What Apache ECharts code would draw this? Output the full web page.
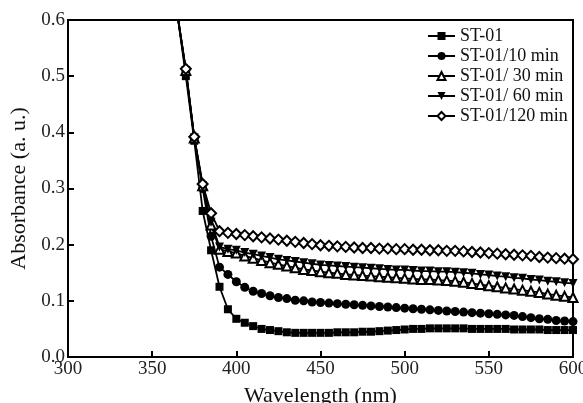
<!DOCTYPE html>
<html>
<head>
<meta charset="utf-8">
<script src="https://cdn.jsdelivr.net/npm/echarts@6/dist/echarts.min.js"></script>
<style>
  html, body { margin: 0; padding: 0; background: #fff; }
  #chart { width: 583px; height: 403px; }
</style>
</head>
<body>
<div id="chart"></div>
<script>
const wavelengths = []
for (let w = 360; w <= 600; w += 5) {
  wavelengths.push(w)
}

// absorbance values, one per wavelength (360..600 step 5)
const st01 = [
  0.70, 0.61, 0.50, 0.385, 0.26, 0.19, 0.125, 0.085, 0.068, 0.061,
  0.055, 0.050, 0.048, 0.046, 0.044, 0.043, 0.043, 0.043, 0.043, 0.043,
  0.044, 0.044, 0.044, 0.045, 0.045, 0.046, 0.047, 0.048, 0.049,
  0.050, 0.050, 0.051, 0.051, 0.051, 0.051, 0.051, 0.050, 0.050, 0.050,
  0.050, 0.050, 0.049, 0.049, 0.049, 0.049, 0.048, 0.048, 0.048, 0.048,
]
const st01_10 = [
  0.70, 0.61, 0.51, 0.39, 0.30, 0.215, 0.160, 0.147, 0.134, 0.124,
  0.117, 0.113, 0.109, 0.106, 0.104, 0.101, 0.100, 0.098, 0.097, 0.096,
  0.095, 0.094, 0.093, 0.092, 0.091, 0.090, 0.089, 0.088, 0.087,
  0.086, 0.085, 0.084, 0.083, 0.082, 0.081, 0.080, 0.079, 0.078, 0.077,
  0.076, 0.075, 0.074, 0.072, 0.070, 0.068, 0.067, 0.065, 0.064, 0.063,
]
const st01_30 = [
  0.70, 0.61, 0.51, 0.39, 0.305, 0.235, 0.192, 0.188, 0.185, 0.180,
  0.176, 0.172, 0.168, 0.165, 0.162, 0.159, 0.156, 0.154, 0.152, 0.150,
  0.149, 0.147, 0.146, 0.145, 0.144, 0.143, 0.142, 0.141, 0.140,
  0.139, 0.138, 0.138, 0.137, 0.136, 0.135, 0.133, 0.131, 0.129, 0.127,
  0.125, 0.123, 0.121, 0.119, 0.117, 0.115, 0.112, 0.110, 0.108, 0.106,
]
const st01_60 = [
  0.70, 0.61, 0.51, 0.39, 0.305, 0.24, 0.196, 0.192, 0.190, 0.186,
  0.183, 0.180, 0.177, 0.174, 0.172, 0.170, 0.168, 0.166, 0.164, 0.163,
  0.162, 0.161, 0.160, 0.159, 0.158, 0.157, 0.156, 0.155, 0.155,
  0.154, 0.153, 0.153, 0.152, 0.152, 0.151, 0.150, 0.149, 0.147, 0.146,
  0.144, 0.143, 0.141, 0.140, 0.138, 0.137, 0.135, 0.134, 0.132, 0.131,
]
const st01_120 = [
  0.70, 0.61, 0.513, 0.392, 0.308, 0.256, 0.224, 0.221, 0.219, 0.217,
  0.215, 0.213, 0.211, 0.209, 0.207, 0.205, 0.203, 0.201, 0.199, 0.198,
  0.197, 0.196, 0.195, 0.194, 0.194, 0.193, 0.193, 0.192, 0.192,
  0.191, 0.191, 0.190, 0.190, 0.189, 0.189, 0.188, 0.187, 0.186, 0.185,
  0.184, 0.183, 0.182, 0.181, 0.180, 0.178, 0.177, 0.176, 0.175, 0.174,
]

const names = ['ST-01', 'ST-01/10 min', 'ST-01/ 30 min', 'ST-01/ 60 min', 'ST-01/120 min']
const xTicks = [300, 350, 400, 450, 500, 550, 600]

const font = '"Liberation Serif", "DejaVu Serif", serif'

const pairs = (vals) => wavelengths.map((w, i) => [w, vals[i]])

const mk = (name, vals, symbol, size, open) => ({
  name: name,
  type: 'line',
  data: pairs(vals),
  symbol: symbol,
  symbolSize: size,
  showAllSymbol: true,
  clip: true,
  lineStyle: { color: '#000', width: 1.8 },
  itemStyle: open
    ? { color: '#fff', borderColor: '#000', borderWidth: 2 }
    : { color: '#000', borderColor: '#000', borderWidth: 0 },
  emphasis: { disabled: true },
  animation: false,
})

const chart = echarts.init(document.getElementById('chart'))
chart.setOption({
  backgroundColor: '#fff',
  grid: {
    left: 68,
    right: 10,
    top: 20,
    bottom: 46,
    containLabel: false,
    outerBoundsMode: 'none',
    show: true,
    borderColor: '#000',
    borderWidth: 2,
  },
  legend: {
    orient: 'vertical',
    left: 422,
    top: 22,
    itemWidth: 27,
    itemHeight: 10,
    itemGap: 2,
    data: names,
    textStyle: { fontFamily: font, fontSize: 18, color: '#111' },
  },
  xAxis: {
    type: 'value',
    min: 300,
    max: 600,
    interval: 50,
    name: 'Wavelength (nm)',
    nameLocation: 'middle',
    nameGap: 28,
    nameTextStyle: { fontFamily: font, fontSize: 22, color: '#111' },
    axisLine: { show: true, lineStyle: { color: '#000', width: 2 } },
    axisTick: { show: true, inside: true, length: 6, lineStyle: { color: '#000', width: 2 } },
    axisLabel: {
      fontFamily: font,
      fontSize: 19,
      color: '#222',
      margin: 3,
      formatter: (v) => (xTicks.includes(v) ? String(v) : ''),
    },
    splitLine: { show: false },
  },
  yAxis: {
    type: 'value',
    min: 0,
    max: 0.6,
    interval: 0.1,
    name: 'Absorbance (a. u.)',
    nameLocation: 'middle',
    nameGap: 36,
    nameTextStyle: { fontFamily: font, fontSize: 22, color: '#111' },
    axisLine: { show: true, lineStyle: { color: '#000', width: 2 } },
    axisTick: { show: true, inside: true, length: 6, lineStyle: { color: '#000', width: 2 } },
    axisLabel: {
      fontFamily: font,
      fontSize: 19,
      color: '#222',
      margin: 3,
      formatter: (v) => v.toFixed(1),
    },
    splitLine: { show: false },
  },
  series: [
    mk(names[0], st01, 'rect', 8, false),
    mk(names[1], st01_10, 'circle', 9, false),
    mk(names[2], st01_30, 'triangle', 9, true),
    mk(names[3], st01_60, 'path://M0,0 L10,0 L5,9 Z', 9, false),
    mk(names[4], st01_120, 'diamond', 10, true),
  ],
})
</script>
</body>
</html>
